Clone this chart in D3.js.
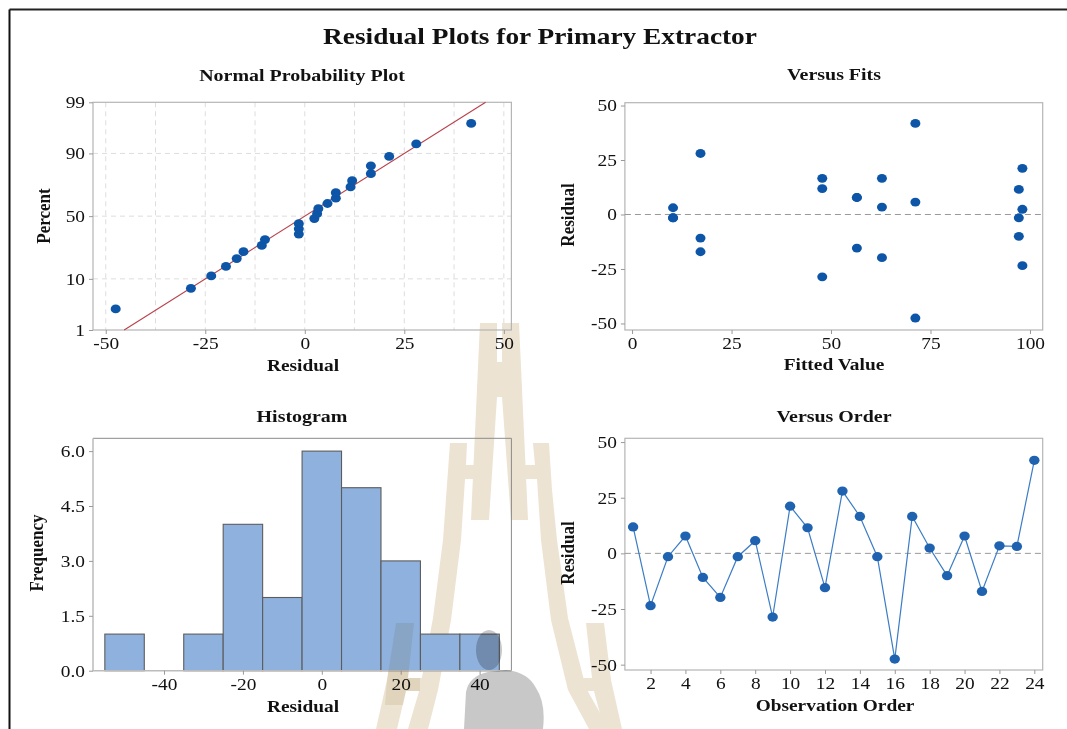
<!DOCTYPE html>
<html>
<head>
<meta charset="utf-8">
<script src="https://cdn.jsdelivr.net/npm/d3@7"></script>
<style>
    body { margin: 0; background: #fff; }
    svg text { font-family: "Liberation Serif", "Times New Roman", serif; fill: #111; }
</style>
</head>
<body>
<svg id="svg" width="1067" height="729"></svg>
<script>
var observations = [1, 2, 3, 4, 5, 6, 7, 8, 9, 10, 11, 12, 13, 14, 15, 16, 17, 18, 19, 20, 21, 22, 23, 24];
var residuals = [11.9, -23.5, -1.5, 7.8, -10.8, -19.8, -1.5, 5.7, -28.6, 21.2, 11.5, -15.4,
                 28, 16.6, -1.5, -47.5, 16.6, 2.4, -10, 7.8, -17.1, 3.4, 3.1, 41.8];
var fittedValues = [47.8, 98.1, 10.3, 56.5, 17.2, 62.8, 97.2, 71.2, 47.8, 98.1, 97.2, 56.5,
                    17.2, 47.8, 10.3, 71.2, 62.8, 98.1, 97.2, 56.5, 17.2, 62.8, 10.3, 71.2];
// percent of the sorted residuals on the normal probability plot
var nppPercent = [2.9, 7.0, 11.1, 15.2, 19.3, 23.4, 27.5, 31.6, 35.7, 39.8, 43.9, 48.0,
                  52.0, 56.1, 60.2, 64.3, 68.4, 72.5, 76.6, 80.7, 84.8, 88.9, 93.0, 97.1];
// histogram
var binEdges = [-55, -45, -35, -25, -15, -5, 5, 15, 25, 35, 45];
var binCounts = [1, 0, 1, 4, 2, 6, 5, 3, 1, 1];

// tick labels
var percentTicks = [1, 10, 50, 90, 99];
var percentGrid = [10, 50, 90];
var residualTicks = [-50, -25, 0, 25, 50];
var residualGrid = [-50, -37.5, -25, -12.5, 0, 12.5, 25, 37.5, 50];
var fitTicks = [0, 25, 50, 75, 100];
var histTicks = [-40, -20, 0, 20, 40];
var freqTicks = [0, 1.5, 3, 4.5, 6];
var orderTicks = [2, 4, 6, 8, 10, 12, 14, 16, 18, 20, 22, 24];

// the scanned figure is a little wider than tall, text gets the same stretch
var SX = 1.14;
var svg = d3.select("svg");

// inverse normal cdf (Acklam) for the probability axis
function qnorm(p) {
    var a = [-39.69683028665376, 220.9460984245205, -275.9285104469687, 138.3577518672690, -30.66479806614716, 2.506628277459239];
    var b = [-54.47609879822406, 161.5858368580409, -155.6989798598866, 66.80131188771972, -13.28068155288572];
    var c = [-0.007784894002430293, -0.3223964580411365, -2.400758277161838, -2.549732539343734, 4.374664141464968, 2.938163982698783];
    var d = [0.007784695709041462, 0.3224671290700398, 2.445134137142996, 3.754408661907416];
    var q, r;
    if (p < 0.02425) {
        q = Math.sqrt(-2 * Math.log(p));
        return (((((c[0]*q+c[1])*q+c[2])*q+c[3])*q+c[4])*q+c[5]) / ((((d[0]*q+d[1])*q+d[2])*q+d[3])*q+1);
    }
    if (p > 1 - 0.02425) {
        q = Math.sqrt(-2 * Math.log(1 - p));
        return -(((((c[0]*q+c[1])*q+c[2])*q+c[3])*q+c[4])*q+c[5]) / ((((d[0]*q+d[1])*q+d[2])*q+d[3])*q+1);
    }
    q = p - 0.5; r = q * q;
    return (((((a[0]*r+a[1])*r+a[2])*r+a[3])*r+a[4])*r+a[5])*q / (((((b[0]*r+b[1])*r+b[2])*r+b[3])*r+b[4])*r+1);
}

function addText(x, y, str, size, bold, rotate) {
    svg.append("text")
        .attr("transform", "translate(" + x + "," + y + ") scale(" + SX + ",1)" + (rotate ? " rotate(-90)" : ""))
        .attr("text-anchor", "middle")
        .style("font-size", size + "px")
        .style("font-weight", bold ? "bold" : "normal")
        .text(str);
}

function styleAxis(g) {
    g.select(".domain").remove();
    g.selectAll(".tick line").attr("stroke", "#999");
    g.selectAll(".tick text")
        .attr("fill", "#1e1e1e")
        .style("font-size", "17px")
        .attr("transform", "scale(" + SX + ",1)");
}

function frame(x, y, color, width) {
    svg.append("rect")
        .attr("x", x.range()[0]).attr("y", y.range()[1])
        .attr("width", x.range()[1] - x.range()[0])
        .attr("height", y.range()[0] - y.range()[1])
        .attr("fill", "none")
        .attr("stroke", color)
        .attr("stroke-width", width);
}

function bottomAxis(x, y, values, fmt) {
    svg.append("g")
        .attr("transform", "translate(0," + y.range()[0] + ")")
        .call(d3.axisBottom(x).tickValues(values).tickSize(4).tickPadding(3).tickFormat(fmt))
        .call(styleAxis);
}

function leftAxis(x, y, values, fmt) {
    svg.append("g")
        .attr("transform", "translate(" + x.range()[0] + ",0)")
        .call(d3.axisLeft(y).tickValues(values).tickSize(4).tickPadding(3).tickFormat(fmt))
        .call(styleAxis);
}

var plain = function (d) { return String(d); };

// outer frame of the figure
svg.append("line").attr("x1", 9.5).attr("y1", 9.5).attr("x2", 1067).attr("y2", 9.5)
    .attr("stroke", "#222").attr("stroke-width", 2);
svg.append("line").attr("x1", 9.5).attr("y1", 9.5).attr("x2", 9.5).attr("y2", 729)
    .attr("stroke", "#111").attr("stroke-width", 2);

// ---------- scan watermark (stamp of the source document, sits behind the marks) ----------
var beige = "#ece3d2";
var stamp = svg.append("g");
stamp.append("path")
    .attr("fill-rule", "evenodd")
    .attr("d", "M480,323 L519,323 L528,520 L511,520 L502,397 L497,397 L489,520 L471,520 Z " +
               "M497,323 L502,323 L502,362 L497,362 Z")
    .attr("fill", beige);
// left arch with its crossbar to the tower
stamp.append("path")
    .attr("d", "M450,443 L467,443 L466,465 L478,465 L478,479 L465,479 L461,540 L451,620 L438,690 L428,729 " +
               "L408,729 L420,688 L433,618 L443,540 Z")
    .attr("fill", beige);
// right arch with its crossbar to the tower
stamp.append("path")
    .attr("d", "M533,443 L549,443 L552,490 L557,540 L568,618 L586,688 L609,729 L589,729 L568,690 L551,620 " +
               "L541,540 L537,479 L524,479 L524,465 L535,465 Z")
    .attr("fill", beige);
// lower side legs with crossbars
stamp.append("path")
    .attr("d", "M396,623 L414,623 L408,678 L436,678 L434,691 L406,691 L397,729 L376,729 L387,680 Z")
    .attr("fill", beige);
stamp.append("path")
    .attr("d", "M586,623 L604,623 L611,680 L622,729 L604,729 L594,691 L570,691 L567,678 L592,678 Z")
    .attr("fill", beige);

addText(540, 44, "Residual Plots for Primary Extractor", 24, true);

// ---------- Normal Probability Plot ----------
var nx = d3.scaleLinear().domain([-53.2, 51.9]).range([93, 511.4]);
var nz = d3.scaleLinear().domain([qnorm(0.01), qnorm(0.99)]).range([330, 102.3]);

svg.append("g").selectAll("line").data(residualGrid).enter().append("line")
    .attr("x1", function (d) { return nx(d); }).attr("x2", function (d) { return nx(d); })
    .attr("y1", nz.range()[1]).attr("y2", nz.range()[0])
    .attr("stroke", "#ddd").attr("stroke-dasharray", "5,4");
svg.append("g").selectAll("line").data(percentGrid).enter().append("line")
    .attr("x1", nx.range()[0]).attr("x2", nx.range()[1])
    .attr("y1", function (d) { return nz(qnorm(d / 100)); })
    .attr("y2", function (d) { return nz(qnorm(d / 100)); })
    .attr("stroke", "#ddd").attr("stroke-dasharray", "5,4");

frame(nx, nz, "#b5b5b5", 1.2);
bottomAxis(nx, nz, residualTicks, plain);
svg.append("g")
    .attr("transform", "translate(" + nx.range()[0] + ",0)")
    .call(d3.axisLeft(nz).tickValues(percentTicks.map(function (p) { return qnorm(p / 100); }))
        .tickSize(4).tickPadding(3)
        .tickFormat(function (d, i) { return percentTicks[i]; }))
    .call(styleAxis);

// fitted normal line
var mu = d3.mean(residuals), sigma = d3.deviation(residuals);
var zEnds = [qnorm(0.01), qnorm(0.99)];
svg.append("path")
    .datum(zEnds)
    .attr("fill", "none")
    .attr("stroke", "#b8404a")
    .attr("stroke-width", 1.1)
    .attr("d", d3.line()
        .x(function (z) { return nx(mu + sigma * z); })
        .y(function (z) { return nz(z); }));

var sorted = d3.sort(residuals);
svg.append("g").selectAll("ellipse").data(sorted).enter().append("ellipse")
    .attr("cx", function (d) { return nx(d); })
    .attr("cy", function (d, i) { return nz(qnorm(nppPercent[i] / 100)); })
    .attr("rx", 5).attr("ry", 4.4)
    .attr("fill", "#0d55a6");

addText(302, 81, "Normal Probability Plot", 17.5, true);
addText(303, 371, "Residual", 17, true);
addText(49.5, 216, "Percent", 17, true, true);

// ---------- Versus Fits ----------
var fx = d3.scaleLinear().domain([-1.8, 103.2]).range([624.9, 1042.7]);
var fy = d3.scaleLinear().domain([-53, 51.3]).range([330, 102.7]);

frame(fx, fy, "#b5b5b5", 1.2);
svg.append("line")
    .attr("x1", fx.range()[0]).attr("x2", fx.range()[1])
    .attr("y1", fy(0)).attr("y2", fy(0))
    .attr("stroke", "#999").attr("stroke-dasharray", "6,4");
bottomAxis(fx, fy, fitTicks, plain);
leftAxis(fx, fy, residualTicks, plain);

svg.append("g").selectAll("ellipse").data(residuals).enter().append("ellipse")
    .attr("cx", function (d, i) { return fx(fittedValues[i]); })
    .attr("cy", function (d) { return fy(d); })
    .attr("rx", 5).attr("ry", 4.4)
    .attr("fill", "#0d55a6");

addText(834, 80, "Versus Fits", 17.5, true);
addText(834, 370, "Fitted Value", 17, true);
addText(574, 215, "Residual", 17, true, true);

// ---------- Histogram ----------
var hx = d3.scaleLinear().domain([-58, 48.06]).range([93, 511.4]);
var hy = d3.scaleLinear().domain([0, 6.35]).range([670.7, 438.3]);

svg.append("path")
    .attr("d", "M" + hx.range()[0] + "," + hy.range()[1] + "H" + hx.range()[1] + "V" + hy.range()[0])
    .attr("fill", "none").attr("stroke", "#8a8a8a").attr("stroke-width", 1);
svg.append("g").selectAll("rect").data(binCounts).enter().append("rect")
    .attr("x", function (d, i) { return hx(binEdges[i]); })
    .attr("y", function (d) { return hy(d); })
    .attr("width", function (d, i) { return hx(binEdges[i + 1]) - hx(binEdges[i]); })
    .attr("height", function (d) { return hy(0) - hy(d); })
    .attr("fill", "#8fb1dd")
    .attr("stroke", function (d) { return d > 0 ? "#5c5c5c" : "none"; })
    .attr("stroke-width", 1.1);
svg.append("path")
    .attr("d", "M" + hx.range()[0] + "," + hy.range()[1] + "V" + hy.range()[0] + "H" + hx.range()[1])
    .attr("fill", "none").attr("stroke", "#bcbcbc").attr("stroke-width", 1.5);
bottomAxis(hx, hy, histTicks, plain);
leftAxis(hx, hy, freqTicks, function (d) { return d.toFixed(1); });

addText(302, 421.5, "Histogram", 17.5, true);
addText(303, 711.5, "Residual", 17, true);
addText(43, 553, "Frequency", 17, true, true);

// ---------- Versus Order ----------
var ox = d3.scaleLinear().domain([0.53, 24.48]).range([624.9, 1042.7]);
var oy = d3.scaleLinear().domain([-52.4, 51.7]).range([670, 438.3]);

frame(ox, oy, "#b5b5b5", 1.2);
svg.append("line")
    .attr("x1", ox.range()[0]).attr("x2", ox.range()[1])
    .attr("y1", oy(0)).attr("y2", oy(0))
    .attr("stroke", "#999").attr("stroke-dasharray", "6,4");
bottomAxis(ox, oy, orderTicks, plain);
leftAxis(ox, oy, residualTicks, plain);

svg.append("path")
    .datum(residuals)
    .attr("fill", "none")
    .attr("stroke", "#3b7cc6")
    .attr("stroke-width", 1.2)
    .attr("d", d3.line()
        .x(function (d, i) { return ox(observations[i]); })
        .y(function (d) { return oy(d); }));
svg.append("g").selectAll("ellipse").data(residuals).enter().append("ellipse")
    .attr("cx", function (d, i) { return ox(observations[i]); })
    .attr("cy", function (d) { return oy(d); })
    .attr("rx", 5.2).attr("ry", 4.6)
    .attr("fill", "#1f62b0");

addText(834, 421.5, "Versus Order", 17.5, true);
addText(835, 710.5, "Observation Order", 17, true);
addText(574, 553, "Residual", 17, true, true);

// gray silhouette of the stamp darkens what lies under it
var shade = svg.append("g").style("mix-blend-mode", "multiply");
shade.append("ellipse")
    .attr("cx", 489).attr("cy", 650).attr("rx", 13).attr("ry", 20)
    .attr("fill", "#c8c8c8");
shade.append("path")
    .attr("d", "M464,729 L466,692 Q469,676 488,672 L506,670 Q528,672 536,688 Q546,703 543,729 Z")
    .attr("fill", "#c8c8c8");
// beige stamp also tints the bars it crosses
var tint = svg.append("g").style("mix-blend-mode", "multiply").attr("opacity", 0.6);
tint.append("path")
    .attr("d", "M396,623 L414,623 L408,678 L420,678 L420,691 L406,691 L403,705 L385,705 L387,680 Z")
    .attr("fill", beige);
</script>
</body>
</html>
